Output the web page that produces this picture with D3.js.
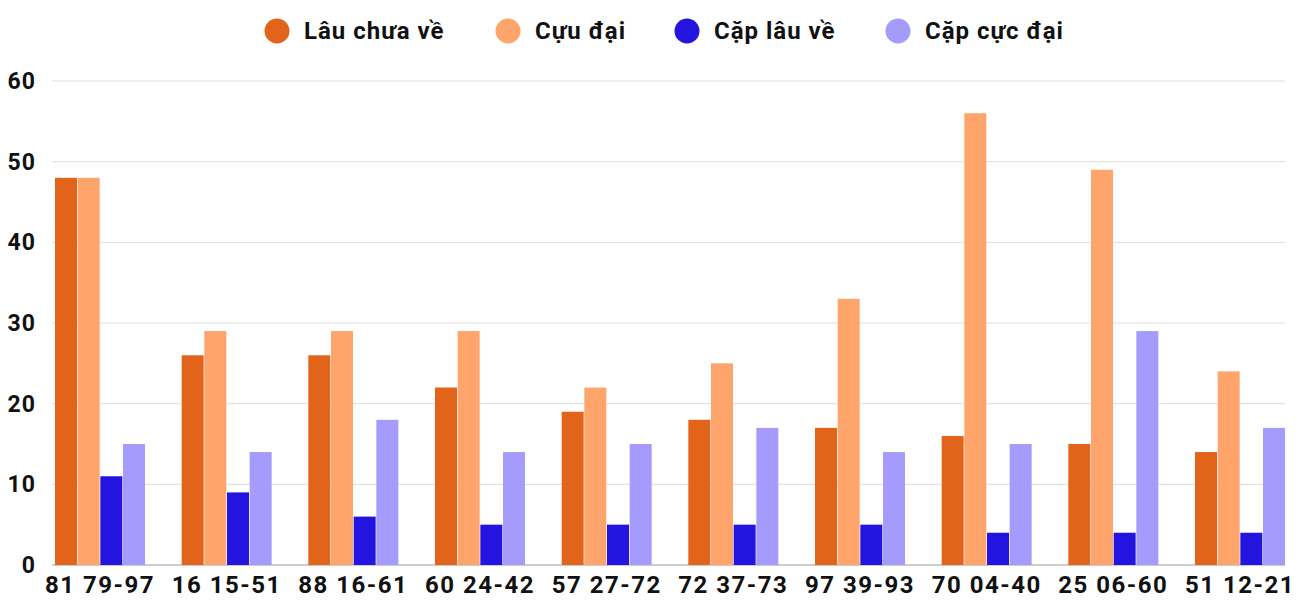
<!DOCTYPE html>
<html><head><meta charset="utf-8">
<script src="https://cdn.jsdelivr.net/npm/d3@7/dist/d3.min.js"></script>
<style>body{margin:0;background:#fff}text{font-family:Roboto,sans-serif;font-weight:bold}</style>
</head><body><svg id="c" width="1300" height="600"></svg>
<script>
const categories=["81 79-97","16 15-51","88 16-61","60 24-42","57 27-72","72 37-73","97 39-93","70 04-40","25 06-60","51 12-21"];
const seriesNames=["Lâu chưa về","Cựu đại","Cặp lâu về","Cặp cực đại"];
const lauChuaVe=[48,26,26,22,19,18,17,16,15,14];
const cuuDai=[48,29,29,29,22,25,33,56,49,24];
const capLauVe=[11,9,6,5,5,5,5,4,4,4];
const capCucDai=[15,14,18,14,15,17,14,15,29,17];
const yTicks=[0,10,20,30,40,50,60];
const colors=["#E2631A","#FFA56B","#2414E0","#A49BFD"];
const series=[lauChuaVe,cuuDai,capLauVe,capCucDai];

const svg=d3.select("#c");
const y=d3.scaleLinear().domain([0,60]).range([565,81]);
const x=d3.scalePoint().domain(categories).range([100,1240]);
const xs=d3.scaleBand().domain(d3.range(4)).range([-45,45]).paddingInner(0.03);

svg.append("g").selectAll("line").data(yTicks).join("line")
 .attr("x1",52).attr("x2",1285).attr("y1",d=>y(d)).attr("y2",d=>y(d))
 .attr("stroke",d=>d===0?"#999":"#ddd").attr("stroke-width",1);
svg.append("g").selectAll("text").data(yTicks).join("text")
 .attr("x",36).attr("y",d=>y(d)+8).attr("text-anchor","end").attr("font-size",23).attr("letter-spacing",1).attr("fill","#111").text(d=>d);

series.forEach((s,i)=>{
 svg.append("g").selectAll("rect").data(s).join("rect")
  .attr("x",(d,j)=>x(categories[j])+xs(i)).attr("width",xs.bandwidth())
  .attr("y",d=>y(d)).attr("height",d=>y(0)-y(d)).attr("fill",colors[i]);
});
svg.append("g").selectAll("text").data(categories).join("text")
 .attr("x",d=>x(d)).attr("y",593).attr("text-anchor","middle").attr("font-size",24).attr("letter-spacing",1.5).attr("fill","#111").text(d=>d);

const legX=[277,508,687,898];
const lg=svg.append("g").selectAll("g").data(seriesNames).join("g").attr("transform",(d,i)=>`translate(${legX[i]},31)`);
lg.append("circle").attr("r",12.5).attr("fill",(d,i)=>colors[i]);
lg.append("text").attr("x",27).attr("y",8).attr("font-size",24).attr("letter-spacing",1).attr("fill","#111").text(d=>d);
</script></body></html>
